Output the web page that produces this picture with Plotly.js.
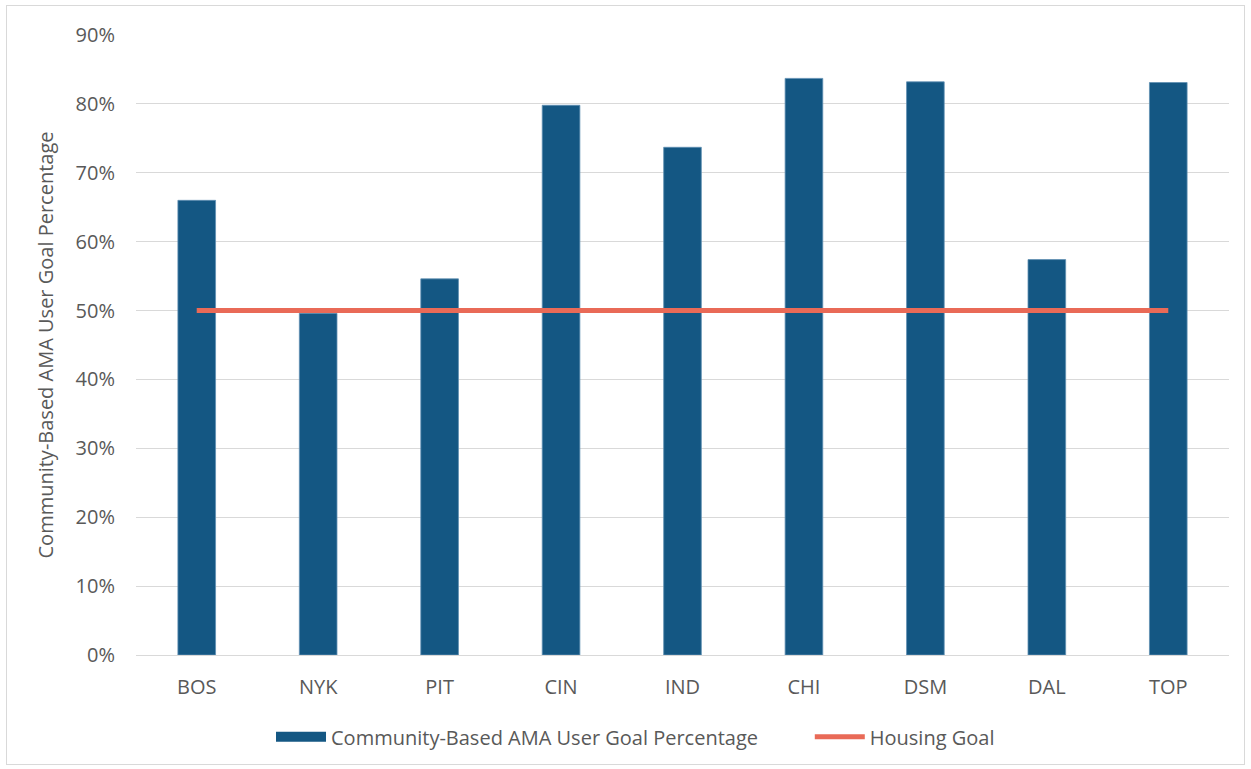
<!DOCTYPE html>
<html>
<head>
<meta charset="utf-8">
<script src="https://cdn.plot.ly/plotly-3.0.1.min.js"></script>
<style>
html,body{margin:0;padding:0;background:#fff;}
#wrap{position:relative;width:1251px;height:769px;}
#chart{width:1251px;height:769px;}
#frame{position:absolute;left:6px;top:5px;width:1239px;height:760px;border:1.5px solid #d9d9d9;pointer-events:none;box-sizing:border-box;}
</style>
</head>
<body>
<div id="wrap"><div id="chart"></div><div id="frame"></div></div>
<script>
const categories = ["BOS","NYK","PIT","CIN","IND","CHI","DSM","DAL","TOP"];
const userGoalPct = [66.0, 49.6, 54.6, 79.8, 73.7, 83.7, 83.2, 57.4, 83.1];
const housingGoal = [50, 50, 50, 50, 50, 50, 50, 50, 50];
const yTickVals = [0,10,20,30,40,50,60,70,80,90];
const yTickText = ["0%","10%","20%","30%","40%","50%","60%","70%","80%","90%"];

const fontFam = "Open Sans, Noto Sans, sans-serif";
const textColor = "#595959";
const barColor = "#145783";
const lineColor = "#E96A57";
const pad = "\u00a0".repeat(9);

const traces = [
  {
    type: "bar",
    name: "Community-Based AMA User Goal Percentage",
    x: categories,
    y: userGoalPct,
    showlegend: false,
    marker: {color: barColor, line: {color: "#5f8fb3", width: 0.8}}
  },
  {
    // legend entry for the bars (wide rectangle swatch)
    type: "scatter",
    mode: "lines",
    name: "Community-Based AMA User Goal Percentage" + pad,
    x: [null],
    y: [null],
    line: {color: barColor, width: 14}
  },
  {
    type: "scatter",
    mode: "lines",
    name: "Housing Goal",
    x: categories,
    y: housingGoal,
    line: {color: lineColor, width: 5}
  }
];

const layout = {
  width: 1251,
  height: 769,
  margin: {l: 136, r: 22, t: 35, b: 114},
  paper_bgcolor: "#ffffff",
  plot_bgcolor: "#ffffff",
  bargap: 0.69,
  font: {family: fontFam, color: textColor, size: 20},
  showlegend: true,
  legend: {
    orientation: "h",
    xref: "container",
    yref: "container",
    x: 0.508,
    xanchor: "center",
    y: 0.042,
    yanchor: "middle",
    font: {family: fontFam, size: 20, color: textColor},
    itemwidth: 50,
    tracegroupgap: 0
  },
  xaxis: {
    type: "category",
    showgrid: false,
    showline: true,
    linecolor: "#d9d9d9",
    linewidth: 1,
    ticks: "",
    ticklabelstandoff: 14,
    tickfont: {family: fontFam, size: 20, color: textColor}
  },
  yaxis: {
    range: [0, 90],
    tickvals: yTickVals,
    ticktext: yTickText,
    showgrid: true,
    gridcolor: "#d9d9d9",
    gridwidth: 1,
    zeroline: false,
    showline: false,
    ticks: "",
    ticklabelstandoff: 20,
    tickfont: {family: fontFam, size: 20, color: textColor},
    title: {text: "Community-Based AMA User Goal Percentage", font: {family: fontFam, size: 20, color: textColor}, standoff: 16}
  }
};

Plotly.newPlot("chart", traces, layout, {displayModeBar: false, staticPlot: true});
</script>
</body>
</html>
